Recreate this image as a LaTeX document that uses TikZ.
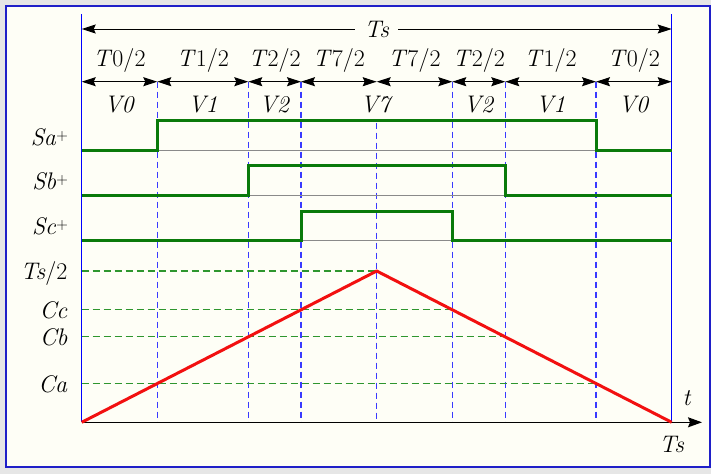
\documentclass[tikz,border=0pt]{standalone}
\usetikzlibrary{arrows.meta,calc}
\definecolor{pagegray}{HTML}{E6E6E6}
\definecolor{paper}{HTML}{FEFEF6}
\definecolor{frameblue}{HTML}{1F1FC8}
\definecolor{axisblue}{HTML}{0000FF}
\definecolor{guideblue}{HTML}{3A3AFF}
\definecolor{pulsegreen}{HTML}{0A7A0A}
\definecolor{levelgreen}{HTML}{2E962E}
\definecolor{basegray}{HTML}{8A8A8A}
\definecolor{carrierred}{HTML}{F21010}
\newcommand{\ivar}[1]{\textit{#1}}
\newcommand{\swplus}{\raisebox{4.5pt}{\fontsize{16}{16}\selectfont +}}
\tikzset{
  lbl/.style={font=\fontsize{24}{28}\selectfont, inner sep=0pt, text=black},
  span/.style={{Stealth[length=14pt,width=9pt,inset=2pt]}-{Stealth[length=14pt,width=9pt,inset=2pt]}, line width=1pt, draw=black},
  guide/.style={draw=guideblue, line width=1.2pt, dash pattern=on 6pt off 4pt},
  level/.style={draw=levelgreen, line width=1.2pt, dash pattern=on 7pt off 4pt},
  sideline/.style={draw=axisblue, line width=1.4pt},
  zeroline/.style={draw=basegray, line width=0.8pt},
  pulse/.style={draw=pulsegreen, line width=3pt, line join=miter},
  carrier/.style={draw=carrierred, line width=3pt, line join=round},
  timeaxis/.style={-{Stealth[length=14pt,width=10pt,inset=2pt]}, line width=1.3pt, draw=black}
}

\begin{document}
\begin{tikzpicture}[x=1pt,y=-1pt]

% frame
\fill[pagegray] (0,0) rectangle (711,474);
\draw[frameblue, line width=2pt, fill=paper] (6,6) rectangle (709.5,467);
\useasboundingbox (0,0) rectangle (711,474);

% sector boundaries (arrow row and time axis)
\coordinate (d0) at (81.7,81.7);   \coordinate (b0) at (81.7,422.3);
\coordinate (d1) at (157.3,81.7);  \coordinate (b1) at (157.3,422.3);
\coordinate (d2) at (248.3,81.7);  \coordinate (b2) at (248.3,422.3);
\coordinate (d3) at (301,81.7);    \coordinate (b3) at (301,422.3);
\coordinate (d4) at (376.7,81.7);  \coordinate (b4) at (376.7,422.3);
\coordinate (d5) at (452.3,81.7);  \coordinate (b5) at (452.3,422.3);
\coordinate (d6) at (505.3,81.7);  \coordinate (b6) at (505.3,422.3);
\coordinate (d7) at (596,81.7);    \coordinate (b7) at (596,422.3);
\coordinate (d8) at (671.7,81.7);  \coordinate (b8) at (671.7,422.3);
\coordinate (mid) at (376.7,122.5);
\coordinate (top0) at (81.7,29);
\coordinate (top8) at (671.7,29);
\coordinate (apex) at (376.7,271);
\coordinate (tend) at (702,422.3);

\foreach \n in {1,2,3,5,6,7}{
  \draw[guide] (d\n) -- (b\n);
}
\draw[guide] (mid) -- (b4);
\draw[sideline] (81.7,14) -- (b0);
\draw[sideline] (671.7,14) -- (b8);

% period and half sectors
\draw[span] (top0) -- (top8);
\node[lbl, fill=paper, inner xsep=9pt, inner ysep=2pt] (tslab) at ($(top0)!0.5!(top8)$) {\ivar{Ts}};

\draw[span] (d0) -- (d1);
\draw[span] (d1) -- (d2);
\draw[span] (d2) -- (d3);
\draw[span] (d3) -- (d4);
\draw[span] (d4) -- (d5);
\draw[span] (d5) -- (d6);
\draw[span] (d6) -- (d7);
\draw[span] (d7) -- (d8);

\node[lbl, anchor=base] (t0a) at ($(d0)!0.5!(d1)+(0,-15)$) {\ivar{T}0/2};
\node[lbl, anchor=base] (t1a) at ($(d1)!0.5!(d2)+(0,-15)$) {\ivar{T}1/2};
\node[lbl, anchor=base] (t2a) at ($(d2)!0.5!(d3)+(0,-15)$) {\ivar{T}2/2};
\node[lbl, anchor=base] (t7a) at ($(d3)!0.5!(d4)+(0,-15)$) {\ivar{T}7/2};
\node[lbl, anchor=base] (t7b) at ($(d4)!0.5!(d5)+(0,-15)$) {\ivar{T}7/2};
\node[lbl, anchor=base] (t2b) at ($(d5)!0.5!(d6)+(0,-15)$) {\ivar{T}2/2};
\node[lbl, anchor=base] (t1b) at ($(d6)!0.5!(d7)+(0,-15)$) {\ivar{T}1/2};
\node[lbl, anchor=base] (t0b) at ($(d7)!0.5!(d8)+(0,-15)$) {\ivar{T}0/2};

\node[lbl, anchor=base] (v0a) at ($(d0)!0.5!(d1)+(0,31)$) {\ivar{V0}};
\node[lbl, anchor=base] (v1a) at ($(d1)!0.5!(d2)+(0,31)$) {\ivar{V1}};
\node[lbl, anchor=base] (v2a) at ($(d2)!0.5!(d3)+(0,31)$) {\ivar{V2}};
\node[lbl, anchor=base] (v7)  at ($(d3)!0.5!(d5)+(0,31)$) {\ivar{V7}};
\node[lbl, anchor=base] (v2b) at ($(d5)!0.5!(d6)+(0,31)$) {\ivar{V2}};
\node[lbl, anchor=base] (v1b) at ($(d6)!0.5!(d7)+(0,31)$) {\ivar{V1}};
\node[lbl, anchor=base] (v0b) at ($(d7)!0.5!(d8)+(0,31)$) {\ivar{V0}};

% switching signals
\draw[zeroline] (81.7,150) -- (671.7,150);
\draw[zeroline] (81.7,195) -- (671.7,195);
\draw[zeroline] (81.7,240) -- (671.7,240);
\draw[pulse] (81.7,150) -| (157.3,120.7) -| (596,150) -- (671.7,150);
\draw[pulse] (81.7,195) -| (248.3,165) -| (505.3,195) -- (671.7,195);
\draw[pulse] (81.7,240) -| (301,211) -| (452.3,240) -- (671.7,240);

\node[lbl, anchor=base east] (sa) at (68,145) {\ivar{Sa}\swplus};
\node[lbl, anchor=base east] (sb) at (68,189) {\ivar{Sb}\swplus};
\node[lbl, anchor=base east] (sc) at (68,234) {\ivar{Sc}\swplus};

% carrier and compare levels
\coordinate (ca) at ($(b0)!0.25627!(apex)$);
\coordinate (cb) at ($(b0)!0.56475!(apex)$);
\coordinate (cc) at ($(b0)!0.74339!(apex)$);

\draw[level] (b0 |- apex) -- (apex);
\draw[level] (b0 |- cc) -- (b5 |- cc);
\draw[level] (b0 |- cb) -- (b6 |- cb);
\draw[level] (b0 |- ca) -- (b7 |- ca);

\node[lbl, anchor=base east] (half) at ($(b0 |- apex)+(-14,8.5)$) {\ivar{Ts}/2};
\node[lbl, anchor=base east] (cclab) at ($(b0 |- cc)+(-14,9)$) {\ivar{Cc}};
\node[lbl, anchor=base east] (cblab) at ($(b0 |- cb)+(-14,9)$) {\ivar{Cb}};
\node[lbl, anchor=base east] (calab) at ($(b0 |- ca)+(-14,9)$) {\ivar{Ca}};

\draw[timeaxis] (b0) -- (tend);
\draw[carrier] (b0) -- (apex) -- (b8);

\node[lbl, anchor=base] (tlab) at ($(tend)+(-15,-17)$) {\ivar{t}};
\node[lbl, anchor=base] (tslow) at ($(b8)+(0,30.5)$) {\ivar{Ts}};

\end{tikzpicture}
\end{document}
